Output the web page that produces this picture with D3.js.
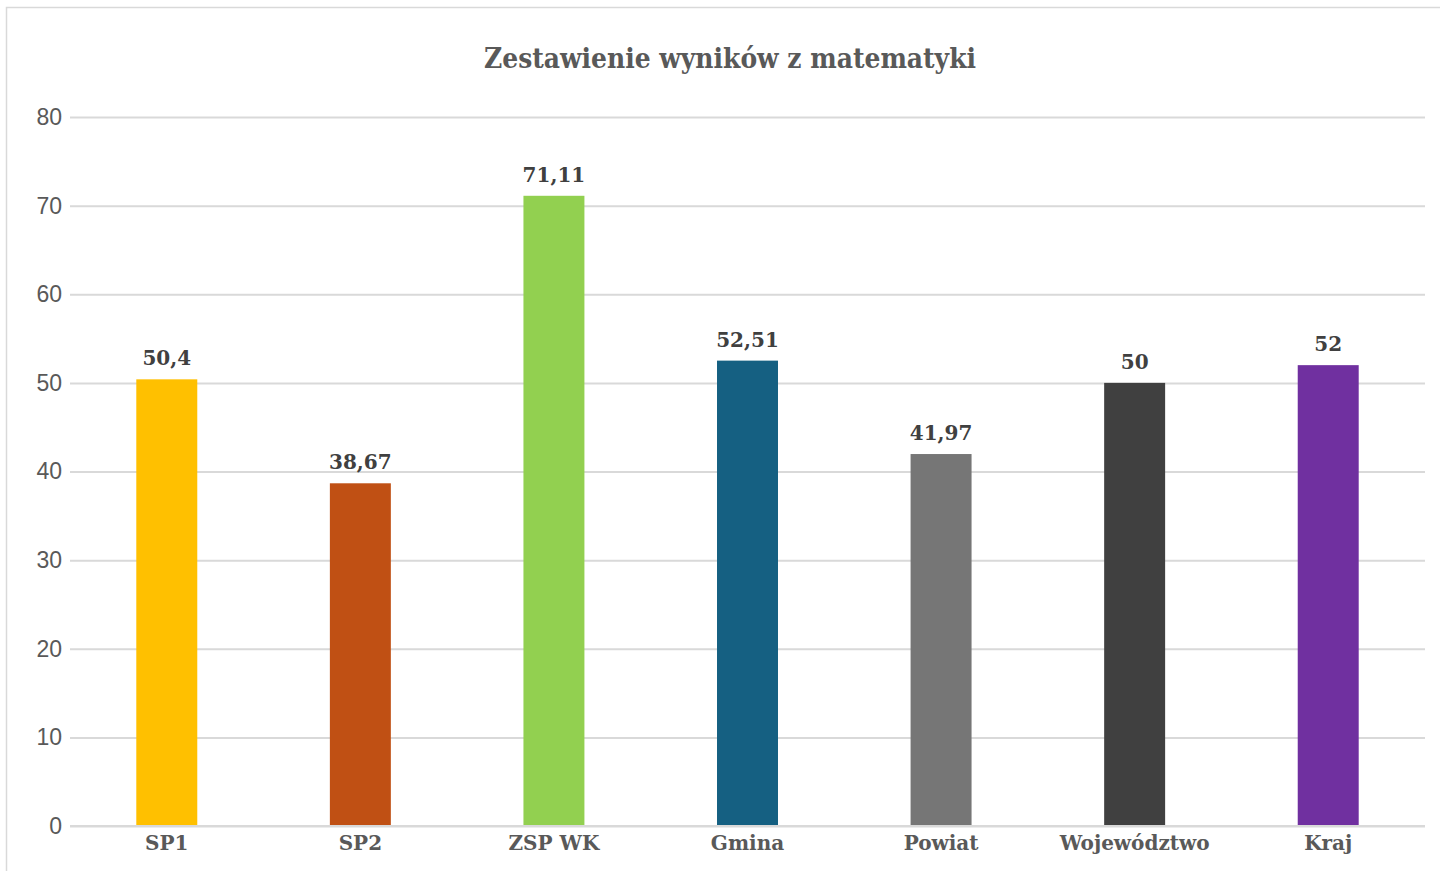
<!DOCTYPE html>
<html><head><meta charset="utf-8">
<script src="https://cdn.jsdelivr.net/npm/d3@7"></script>
<style>html,body{margin:0;padding:0;background:#fff;overflow:hidden}</style>
</head><body><svg id="c" width="1440" height="871"></svg>
<script>
const categories = ["SP1","SP2","ZSP WK","Gmina","Powiat","Województwo","Kraj"];
const values = [50.4, 38.67, 71.11, 52.51, 41.97, 50, 52];
const labels = ["50,4","38,67","71,11","52,51","41,97","50","52"];
const colors = ["#FFC000","#C05014","#92D050","#156082","#767676","#404040","#7030A0"];
const yTicks = [0,10,20,30,40,50,60,70,80];
const title = "Zestawienie wyników z matematyki";

const svg = d3.select("#c");
svg.append("rect").attr("x",6.5).attr("y",7.5).attr("width",1440).attr("height",900)
  .attr("fill","#fff").attr("stroke","#d9d9d9").attr("stroke-width",1.5);

const m = {left:70, right:1425, top:117, bottom:826};
const x = d3.scaleBand().domain(categories).range([m.left,m.right]).paddingInner(0.685).paddingOuter(0.3425);
const y = d3.scaleLinear().domain([0,80]).range([m.bottom,m.top]);

const serif = "'DejaVu Serif',serif";

svg.append("text").attr("x",730).attr("y",68).attr("text-anchor","middle")
  .attr("font-family",serif).attr("font-weight","bold").attr("font-size",28)
  .attr("fill","#595959").attr("textLength",492).attr("lengthAdjust","spacingAndGlyphs").text(title);

const ya = svg.append("g").attr("transform",`translate(${m.left},0)`)
  .call(d3.axisLeft(y).tickValues(yTicks).tickSize(-(m.right-m.left)).tickPadding(8));
ya.select(".domain").remove();
ya.selectAll(".tick line").attr("stroke","#d9d9d9").attr("stroke-width",2);
ya.selectAll(".tick text").attr("font-family","'Liberation Sans',Arial,sans-serif").attr("font-size",23).attr("fill","#595959");

svg.selectAll("rect.bar").data(values).join("rect").attr("class","bar")
  .attr("x",(d,i)=>x(categories[i])).attr("width",x.bandwidth())
  .attr("y",d=>y(d)).attr("height",d=>y(0)-y(d)).attr("fill",(d,i)=>colors[i]);

svg.append("line").attr("x1",m.left).attr("x2",m.right).attr("y1",y(0)).attr("y2",y(0))
  .attr("stroke","#d9d9d9").attr("stroke-width",2);

svg.selectAll("text.dl").data(values).join("text").attr("class","dl")
  .attr("x",(d,i)=>x(categories[i])+x.bandwidth()/2).attr("y",d=>y(d)-14)
  .attr("text-anchor","middle").attr("font-family",serif).attr("font-weight","bold")
  .attr("font-size",20).attr("fill","#404040").text((d,i)=>labels[i]);

const xa = svg.append("g").attr("transform",`translate(0,${m.bottom})`)
  .call(d3.axisBottom(x).tickSize(0).tickPadding(10));
xa.select(".domain").remove();
xa.selectAll(".tick text").attr("font-family",serif).attr("font-weight","bold")
  .attr("font-size",20).attr("fill","#595959");
</script></body></html>
